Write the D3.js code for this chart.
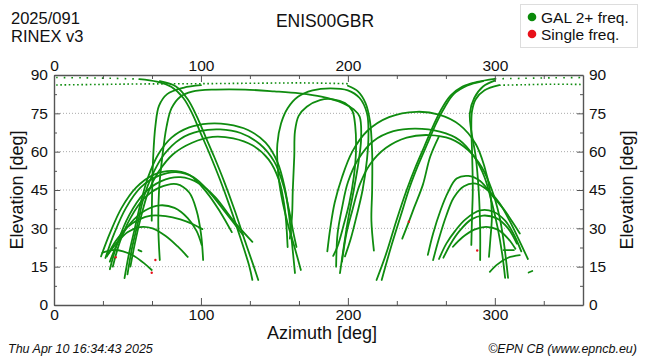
<!DOCTYPE html>
<html><head><meta charset="utf-8">
<script src="https://cdn.jsdelivr.net/npm/d3@7"></script>
<style>
body{margin:0;background:#fff}
text{font-family:"Liberation Sans",Arial,Helvetica,sans-serif;fill:#111}
</style></head>
<body><svg id="chart" width="650" height="360"></svg>
<script>
// ---- axis tick values ----
const xMajorTicks = [0, 100, 200, 300];
const xMinorTicks = [33.3, 66.7, 133.3, 166.7, 233.3, 266.7, 333.3];
const yMajorTicks = [0, 15, 30, 45, 60, 75, 90];
const yMinorTicks = [7.5, 22.5, 37.5, 52.5, 67.5, 82.5];
const gridLevels = [15, 30, 45, 60, 75];

// ---- satellite tracks [azimuth, elevation] ----
// left low hills
const trackA1 = [[32,19],[38,28],[46,38],[56,46],[68,51],[80,52.5],[92,51],[104,44],[113,36.5],[121,28.5]];
const trackA2 = [[35,18.4],[41,28],[49,38],[59,46],[71,50.5],[83,52],[95,50],[106,44],[117,36],[128.6,27.4]];
const trackA3 = [[38,14],[43,24],[51,35],[61,43.5],[73,48.5],[86,50],[99,47.5],[110,42],[122,33],[135,24.7]];
const trackA4 = [[40,15],[45,25],[52,34],[61,41.5],[72,46],[83.5,47.3],[92,44],[97,37],[100,28],[101.5,17.6]];
const trackA5 = [[38,17],[44,25],[52,32],[62,37],[72,39],[82,38],[91,34],[97,29],[100.5,23.5]];
const trackA6 = [[36,19],[42,25],[50,30.5],[58,33.5],[66,35],[76,34.8],[86,33.5],[95,31.5],[101,29.7]];
const trackA7 = [[37,20],[43,24.5],[50,28.5],[58.5,30.5],[67,30],[76,27],[84,23],[91,18.8]];
const trackA8 = [[33,20.5],[40,21.5],[47,21],[55,19],[62,16],[66.5,13.7]];
const trackA17 = [[57.5,21.5],[59.5,21]];
// left big arcs
const trackE1 = [[48,10.5],[51,20],[55,30],[59,40],[64,50],[71,59],[80,65.5],[92,69.5],[105,71],[118,70.7],[132,68.5],[144,63.5],[152,56],[157,46],[160,35],[162,24],[164,12.5]];
const trackE2 = [[50,12],[53,22],[57,32],[61,42],[67,51],[75,59],[86,65],[99,68],[113,68.7],[127,67.3],[140,63],[150,56],[156,47],[160,37],[163,28],[165,22.7]];
const trackE3 = [[52,15],[55,24],[59,34],[64,44],[71,52],[81,59],[94,63.5],[108,65.8],[122,65.2],[135,62.5],[146,57],[153,49],[157,38],[159,22.7]];
// steep descents from the north-west top
const trackB1 = [[58,88.4],[70,87.4],[80,85.3],[88,81],[94,75],[100,67],[106,59],[113,49],[120,38],[127,26],[133,15],[135,9.8]];
const trackB2 = [[72,87.6],[83,85.5],[91,80.5],[97,74],[103,66],[109,58],[116,48],[123,37],[130,25],[136,15],[139,9.8]];
// rising on the left to the top
const trackD1 = [[66.5,33],[66.8,45],[67.5,58],[69,70],[71.5,78],[77,82.5],[88,85],[100,86]];
const trackD1b = [[200,85.8],[207,83.5],[212,79],[215,72],[216.5,60],[216.5,45],[216,33],[217.7,21.3]];
const trackG1 = [[72,17.6],[71,30],[71.5,45],[73.5,57],[76.6,69.8],[80,77],[86,81.5],[94,83.5],[110,84.3],[130,84.3],[150,83.6],[167,82.8],[182,81.5],[196.6,79],[204,76.5],[208,73.7],[209,65],[207,55],[204,45],[200,33],[197,22],[194.6,12.5]];
// centre inverted U
const trackF1 = [[168,13.7],[164,22],[159,32],[155,42],[152.5,52],[152,63],[154.5,71],[159,77],[166,81.5],[176,84],[188,84.8],[200,84],[208,81],[213,75],[214,67],[213,57],[210,45],[206,35],[202,26],[198,19]];
const trackF2 = [[160.5,26],[162,35],[162.5,45],[163.5,58],[164,68],[166.5,74],[172,77.6],[181,80.2],[190,80.5],[198,79],[203,76],[205,70],[205.5,60],[204,50],[201,40],[197,31],[193,23],[190,19.2]];
// right big arcs
const trackE4 = [[186,21],[188,30],[191,40],[196,50],[203,60],[213,68],[228,73.5],[246.7,75.6],[262,74.5],[276,70.5],[287,63],[293,54],[296.6,45],[298,35],[297,26],[296,18.8]];
const trackE5 = [[192,15],[193,28],[196,38],[200,48],[207,57],[217,64],[231,68],[246,69],[262.6,67.8],[276,64.5],[286,58],[293,50],[298,40],[302,30],[305,20],[307,10.6]];
const trackE6 = [[196,17],[199,28],[203,37],[208,47],[215,55],[226,61.5],[240,65.5],[255,66.5],[270,65],[282,60.5],[291,54],[298,45],[303,35],[306,25],[309,10.6]];
// steep descents from the north-east top
const trackB3 = [[300,88.5],[288,87.3],[278,85.5],[270,82],[264,77],[258,70],[252,62],[246,54],[240,45],[233,33],[226,20],[219.5,9.8]];
const trackB4 = [[292,87.6],[281,85.8],[272,82.5],[266,77.5],[260,71],[254,63],[248,55],[242,46],[236,35],[229,22],[223,9.8]];
const trackB5 = [[262,66],[256,58],[251,47],[245,38],[241.5,32.6],[237,26]];
// right low hills
const trackA9 = [[254.4,19.6],[258,28],[263,37],[268,44],[274,49.5],[282,50.5],[290,48.5],[298,43],[306,37.5],[312,32.5],[317,28]];
const trackA10 = [[258,17.6],[262,26],[267,35],[272,42],[279,46.5],[287,47.5],[295,45],[303,40],[310,33],[316,26],[322.5,18]];
const trackA11 = [[262,18],[267,24],[273,29],[280,33.5],[290,37],[299,36.5],[307,33],[313,27.5],[318,21]];
const trackA12 = [[265,18.5],[270,24],[276,29],[284,33.5],[292,35],[301,34],[309,30],[315,24]];
const trackA13 = [[271.5,22.8],[278,26.5],[286,29.5],[294,30.6],[302,29.5],[309,26],[314,22]];
const trackA14 = [[296.6,13],[302,16],[309,18.5],[317,19.5]];
const trackA15 = [[306,21.5],[313,21.5]];
const trackA16 = [[323,12.7],[325.5,13.3]];
// rising on the right to the top
const trackH1 = [[284,23.5],[284.5,35],[285,45],[284.5,60],[284,70],[284.5,76],[287,80.5],[293,84],[303,86]];
const trackH2 = [[290,17.6],[290,30],[289,45],[287,58],[284,68],[283,75],[286,81],[292,85.5],[300,87.8]];

// near-zenith passes (sparse samples -> dotted)
const dotUpperLeft = [[1.5,89],[20,88.9],[40,88.7],[58,88.4]];
const dotLowerLeft = [[1.5,86.1],[30,86.3],[60,86.5],[100,86.6],[140,86.8],[170,86.9],[200,86.6]];
const dotUpperRight = [[300,88.5],[320,88.7],[340,88.9],[359,89]];
const dotLowerRight = [[303,86],[320,86.2],[340,86.4],[359,86.3]];

// single-frequency epochs
const singleFreqPoints = [[42,18.7],[69,17.6],[66.5,12.6],[241.5,32.6],[288,21.3]];

const solidTracks = [trackA1,trackA2,trackA3,trackA4,trackA5,trackA6,trackA7,trackA8,trackA17,
  trackE1,trackE2,trackE3,trackB1,trackB2,trackD1,trackD1b,trackG1,trackF1,trackF2,
  trackE4,trackE5,trackE6,trackB3,trackB4,trackB5,
  trackA9,trackA10,trackA11,trackA12,trackA13,trackA14,trackA15,trackA16,trackH1,trackH2];
const sparseTracks = [dotUpperLeft, dotUpperRight];
const denseTracks = [dotLowerLeft, dotLowerRight];

const legendItems = [["GAL 2+ freq.", "#0a8a0a"], ["Single freq.", "#e8111a"]];

// ---- drawing ----
const svg = d3.select("#chart");
const x = d3.scaleLinear().domain([0, 360]).range([54, 583]);
const y = d3.scaleLinear().domain([0, 90]).range([305, 75]);
const green = "#0f8c0f";
const axisColor = "#555";

// grid
svg.append("g").selectAll("line").data(gridLevels).join("line")
  .attr("x1", x(0)).attr("x2", x(360)).attr("y1", d => y(d)).attr("y2", d => y(d))
  .attr("stroke", "#aaa").attr("stroke-width", 1).attr("stroke-dasharray", "1,2");

const line = d3.line().x(d => x(d[0])).y(d => y(d[1])).curve(d3.curveCatmullRom.alpha(0.5));

const tracksG = svg.append("g").attr("fill", "none");
tracksG.selectAll("path.solid").data(solidTracks).join("path").attr("class", "solid")
  .attr("d", line).attr("stroke", green).attr("stroke-width", 1.8).attr("stroke-linecap", "round");
tracksG.selectAll("path.sparse").data(sparseTracks).join("path").attr("class", "sparse")
  .attr("d", line).attr("stroke", green).attr("stroke-width", 1.6).attr("stroke-dasharray", "1.6,6");
tracksG.selectAll("path.dense").data(denseTracks).join("path").attr("class", "dense")
  .attr("d", line).attr("stroke", green).attr("stroke-width", 1.6).attr("stroke-dasharray", "1.6,2.6");

svg.append("g").selectAll("circle").data(singleFreqPoints).join("circle")
  .attr("cx", d => x(d[0])).attr("cy", d => y(d[1])).attr("r", 1.2).attr("fill", "#e8111a");

// axes
function styleAxis(g) {
  g.select(".domain").attr("stroke", axisColor).attr("stroke-width", 1.4);
  g.selectAll(".tick line").attr("stroke", axisColor).attr("stroke-width", 1);
  g.selectAll("text").attr("font-size", 15.5).attr("fill", "#111")
    .attr("font-family", '"Liberation Sans",Arial,sans-serif');
}
const fmt = d3.format("d");
svg.append("g").attr("transform", `translate(0,${y(0)})`)
  .call(d3.axisBottom(x).tickValues(xMajorTicks).tickFormat(fmt).tickSizeInner(-7).tickSizeOuter(0).tickPadding(4))
  .call(styleAxis);
svg.append("g").attr("transform", `translate(0,${y(0)})`)
  .call(d3.axisBottom(x).tickValues(xMinorTicks).tickFormat("").tickSizeInner(-4).tickSizeOuter(0))
  .call(g => g.select(".domain").remove()).call(styleAxis);
svg.append("g").attr("transform", `translate(0,${y(90)})`)
  .call(d3.axisTop(x).tickValues(xMajorTicks).tickFormat(fmt).tickSizeInner(-7).tickSizeOuter(0).tickPadding(4))
  .call(styleAxis);
svg.append("g").attr("transform", `translate(0,${y(90)})`)
  .call(d3.axisTop(x).tickValues(xMinorTicks).tickFormat("").tickSizeInner(-4).tickSizeOuter(0))
  .call(g => g.select(".domain").remove()).call(styleAxis);
svg.append("g").attr("transform", `translate(${x(0)},0)`)
  .call(d3.axisLeft(y).tickValues(yMajorTicks).tickFormat(fmt).tickSizeInner(-6).tickSizeOuter(0).tickPadding(6))
  .call(styleAxis);
svg.append("g").attr("transform", `translate(${x(0)},0)`)
  .call(d3.axisLeft(y).tickValues(yMinorTicks).tickFormat("").tickSizeInner(-3).tickSizeOuter(0))
  .call(g => g.select(".domain").remove()).call(styleAxis);
svg.append("g").attr("transform", `translate(${x(360)},0)`)
  .call(d3.axisRight(y).tickValues(yMajorTicks).tickFormat(fmt).tickSizeInner(-6).tickSizeOuter(0).tickPadding(6))
  .call(styleAxis);
svg.append("g").attr("transform", `translate(${x(360)},0)`)
  .call(d3.axisRight(y).tickValues(yMinorTicks).tickFormat("").tickSizeInner(-3).tickSizeOuter(0))
  .call(g => g.select(".domain").remove()).call(styleAxis);

// titles
svg.append("text").attr("x", 11).attr("y", 23.5).attr("font-size", 16.5).text("2025/091");
svg.append("text").attr("x", 11).attr("y", 42).attr("font-size", 16.5).text("RINEX v3");
svg.append("text").attr("x", 325).attr("y", 27).attr("font-size", 17.5).attr("text-anchor", "middle").text("ENIS00GBR");
svg.append("text").attr("x", 322).attr("y", 339).attr("font-size", 18).attr("text-anchor", "middle").text("Azimuth [deg]");
svg.append("text").attr("transform", `translate(23,${(y(0)+y(90))/2}) rotate(-90)`).attr("font-size", 18)
  .attr("text-anchor", "middle").text("Elevation [deg]");
svg.append("text").attr("transform", `translate(633,${(y(0)+y(90))/2}) rotate(-90)`).attr("font-size", 18)
  .attr("text-anchor", "middle").text("Elevation [deg]");
svg.append("text").attr("x", 8).attr("y", 353).attr("font-size", 12.5).attr("font-style", "italic").text("Thu Apr 10 16:34:43 2025");
svg.append("text").attr("x", 637).attr("y", 353).attr("font-size", 12.5).attr("font-style", "italic")
  .attr("text-anchor", "end").text("©EPN CB (www.epncb.eu)");

// legend
const lg = svg.append("g");
lg.append("rect").attr("x", 520.5).attr("y", 4.5).attr("width", 117).attr("height", 43)
  .attr("fill", "#fff").attr("stroke", "#ddd").attr("stroke-width", 1);
lg.selectAll("circle").data(legendItems).join("circle")
  .attr("cx", 532).attr("cy", (d, i) => 17 + i * 17).attr("r", 4.3).attr("fill", d => d[1]);
lg.selectAll("text").data(legendItems).join("text")
  .attr("x", 541).attr("y", (d, i) => 22.5 + i * 17).attr("font-size", 15.5).text(d => d[0]);
</script></body></html>
